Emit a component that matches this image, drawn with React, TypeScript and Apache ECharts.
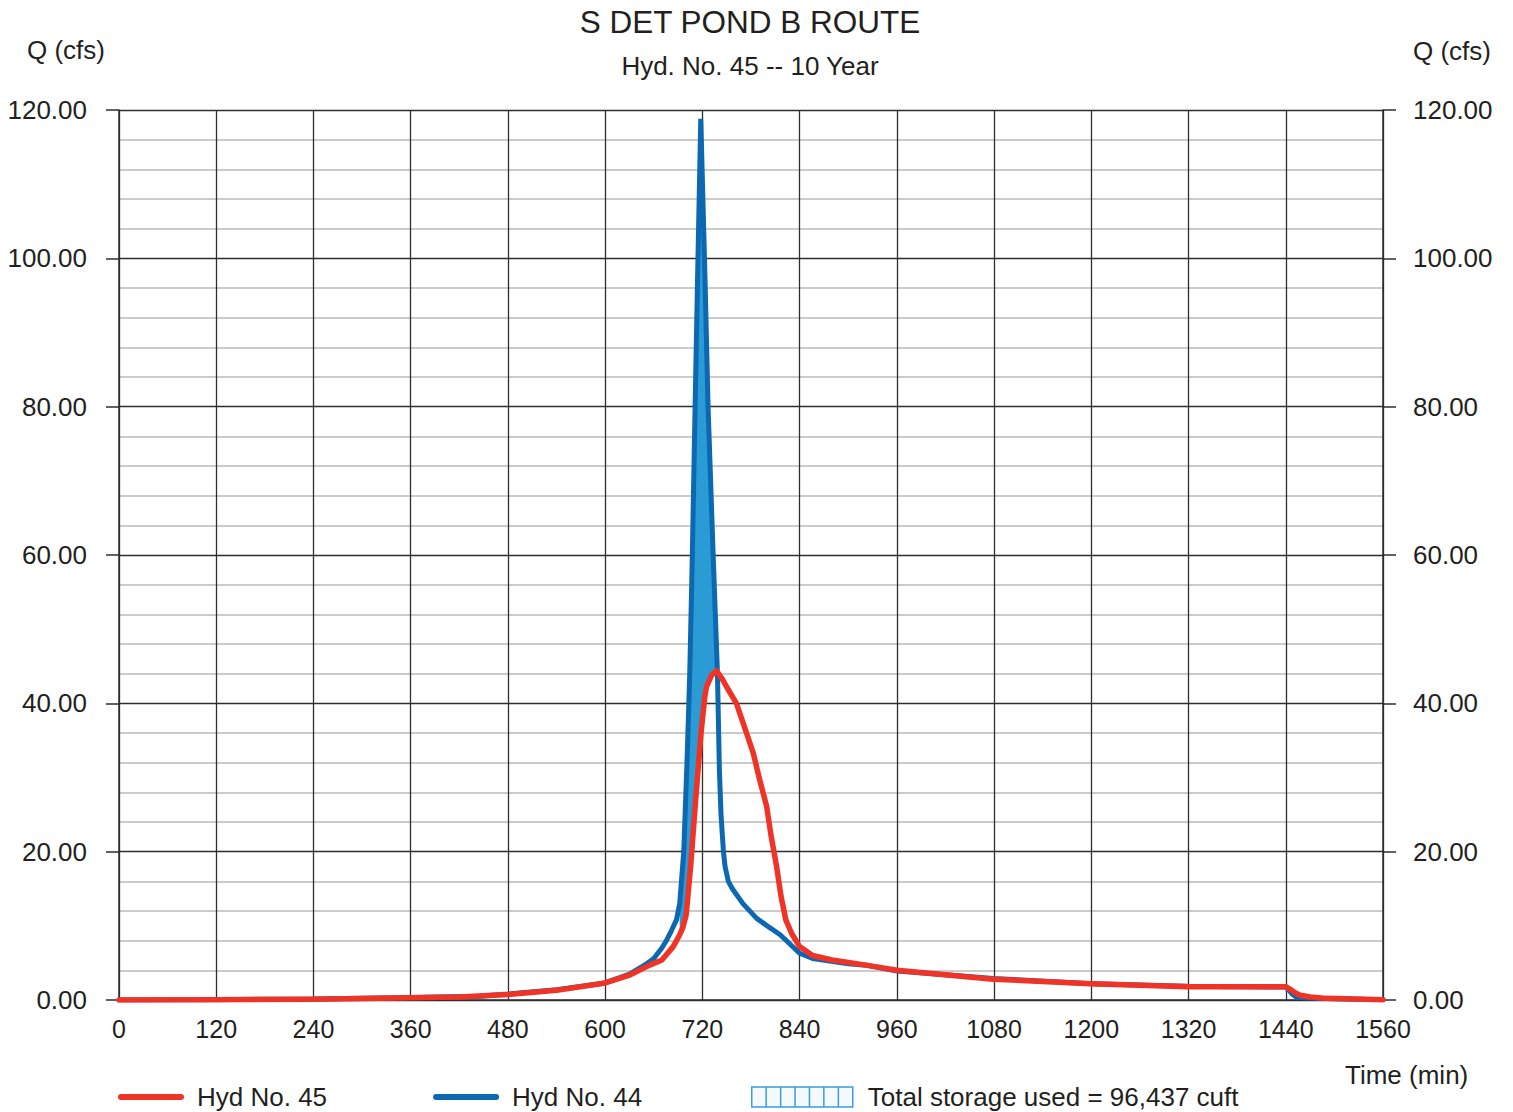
import React, { useEffect, useRef } from "react";
import * as echarts from "echarts";

// Hyd No. 44 (inflow) — [time (min), Q (cfs)]
const hyd44: [number, number][] = [
  [0, 0], [120, 0.05], [240, 0.15], [360, 0.35], [445, 0.5], [480, 0.8], [540, 1.4],
  [600, 2.3], [630, 3.5], [650, 4.8], [660, 5.6], [670, 7.0], [676, 8.1], [682, 9.4],
  [688, 10.8], [692, 13], [697, 20], [701, 32], [704.4, 44], [707.6, 60], [711, 80],
  [714, 97], [718, 118.8], [723.3, 97], [727, 80], [733.3, 60], [738.6, 44], [741, 31],
  [743, 25], [746, 20], [748, 18], [752, 16], [757, 15], [770, 13], [787, 11], [800, 10],
  [816, 8.8], [840, 6.3], [856, 5.6], [900, 4.9], [922, 4.7], [960, 3.9], [1079, 2.9],
  [1200, 2.2], [1319, 1.85], [1440, 1.75], [1444, 1.3], [1448, 0.8], [1452, 0.45],
  [1460, 0.3], [1490, 0.2], [1560, 0.05],
];

// Hyd No. 45 (routed outflow) — [time (min), Q (cfs)]
const hyd45: [number, number][] = [
  [0, 0], [120, 0.03], [240, 0.1], [360, 0.3], [420, 0.42], [480, 0.75], [540, 1.3],
  [600, 2.3], [631, 3.4], [655, 4.7], [670, 5.4], [684, 7.2], [692, 8.8], [696, 9.8],
  [700, 11.5], [705.5, 18], [711.7, 27], [718.3, 36], [723, 40.9], [725, 42.2],
  [731.4, 43.8], [737.5, 44.4], [745, 43.2], [750, 42.2], [762, 40], [772, 36.8],
  [782.8, 33.3], [790, 30], [799.3, 26.1], [805, 22], [811.6, 18], [817, 14], [823, 10.8],
  [830, 9], [840, 7.2], [856, 6], [880, 5.4], [922, 4.7], [960, 4.0], [1079, 2.8],
  [1200, 2.2], [1319, 1.8], [1440, 1.8], [1446, 1.4], [1452, 0.95], [1458, 0.65],
  [1470, 0.4], [1490, 0.22], [1560, 0.05],
];

const storageWindow: [number, number] = [690, 739];

const titleText = "S DET POND B ROUTE";
const subtitleText = "Hyd. No. 45 -- 10 Year";
const name44 = "Hyd No. 44";
const name45 = "Hyd No. 45";
const storageName = "Total storage used = 96,437 cuft";

const FONT = "'Liberation Sans', Arial, Helvetica, sans-serif";
const INK = "#231f20";
const GRID_DARK = "#2e2e2e";
const RED = "#ef3326";
const BLUE = "#0b68b1";
const FILL = "#2b9bd6";

const LINE_ICON = "path://M3 0H63A3 3 0 0 1 63 6H3A3 3 0 0 1 3 0Z";
const STORAGE_ICON =
  "path://M0 0H101V20H0ZM14.4 0V20M28.9 0V20M43.3 0V20M57.7 0V20M72.1 0V20M86.6 0V20";

export default function App() {
  const ref = useRef<HTMLDivElement>(null);

  useEffect(() => {
    if (!ref.current) return;
    const chart = echarts.init(ref.current, undefined, { renderer: "svg" });

    const top = hyd44.filter((p) => p[0] >= storageWindow[0] && p[0] <= storageWindow[1]);
    const bottom = hyd45
      .filter((p) => p[0] >= storageWindow[0] && p[0] <= storageWindow[1])
      .slice()
      .reverse();

    const yAxisCommon = {
      type: "value",
      min: 0,
      max: 120,
      interval: 20,
      axisLine: { show: true, lineStyle: { color: GRID_DARK, width: 1.5 } },
      axisTick: { show: true, inside: false, length: 13, lineStyle: { color: GRID_DARK, width: 1.5 } },
      axisLabel: {
        fontSize: 26,
        color: INK,
        fontFamily: FONT,
        formatter: (v: number) => v.toFixed(2),
      },
      nameTextStyle: { fontSize: 26, color: INK, fontFamily: FONT, verticalAlign: "middle" },
    };

    const option = {
      animation: false,
      textStyle: { fontFamily: FONT, color: INK },
      title: [
        {
          text: titleText,
          left: 750,
          top: 6,
          padding: 0,
          textAlign: "center",
          textStyle: { fontSize: 31.5, fontWeight: "normal", color: INK, fontFamily: FONT },
        },
        {
          text: subtitleText,
          left: 750,
          top: 53,
          padding: 0,
          textAlign: "center",
          textStyle: { fontSize: 26, fontWeight: "normal", color: INK, fontFamily: FONT },
        },
      ],
      grid: { left: 119, right: 130, top: 110, bottom: 112 },
      legend: [
        {
          left: 118,
          top: 1084,
          padding: 0,
          itemWidth: 66,
          itemHeight: 6,
          itemGap: 106,
          selectedMode: false,
          symbolKeepAspect: false,
          data: [
            { name: name45, icon: LINE_ICON, itemStyle: { color: RED } },
            { name: name44, icon: LINE_ICON, itemStyle: { color: BLUE } },
          ],
          textStyle: { fontSize: 26, color: INK, fontFamily: FONT, padding: [0, 0, 0, 8] },
        },
        {
          left: 751,
          top: 1084,
          padding: 0,
          itemWidth: 101,
          itemHeight: 20,
          selectedMode: false,
          symbolKeepAspect: false,
          data: [
            {
              name: storageName,
              icon: STORAGE_ICON,
              itemStyle: { color: "rgba(43,155,214,0.06)", borderColor: "#3d9be0", borderWidth: 1.5 },
            },
          ],
          textStyle: { fontSize: 26, color: INK, fontFamily: FONT, padding: [0, 0, 0, 10] },
        },
      ],
      xAxis: {
        type: "value",
        min: 0,
        max: 1560,
        interval: 120,
        name: "Time (min)",
        nameLocation: "end",
        nameGap: -38,
        nameTextStyle: {
          fontSize: 26,
          color: INK,
          fontFamily: FONT,
          align: "left",
          verticalAlign: "top",
          padding: [62, 0, 0, 0],
        },
        axisLine: { show: true, lineStyle: { color: GRID_DARK, width: 1.5 } },
        axisTick: { show: false },
        axisLabel: {
          fontSize: 25,
          color: INK,
          fontFamily: FONT,
          margin: 16,
          formatter: (v: number) => String(v),
        },
        splitLine: { show: true, lineStyle: { color: GRID_DARK, width: 1.3 } },
      },
      yAxis: [
        {
          ...yAxisCommon,
          position: "left",
          name: "Q (cfs)",
          nameLocation: "end",
          nameGap: 60,
          nameTextStyle: { ...yAxisCommon.nameTextStyle, align: "right", padding: [0, 14, 0, 0] },
          axisLabel: { ...yAxisCommon.axisLabel, margin: 32 },
          splitLine: { show: true, lineStyle: { color: GRID_DARK, width: 1.3 } },
          minorTick: { show: false, splitNumber: 5 },
          minorSplitLine: { show: true, lineStyle: { color: "#cbcbcb", width: 2 } },
        },
        {
          ...yAxisCommon,
          position: "right",
          name: "Q (cfs)",
          nameLocation: "end",
          nameGap: 59,
          nameTextStyle: { ...yAxisCommon.nameTextStyle, align: "left", padding: [0, 0, 0, 30] },
          axisLabel: { ...yAxisCommon.axisLabel, margin: 30 },
          splitLine: { show: false },
        },
      ],
      series: [
        {
          name: storageName,
          type: "custom",
          z: 1,
          clip: true,
          itemStyle: { color: FILL },
          data: [[0, 0]],
          renderItem: (_params: any, api: any) => {
            const pts = [...top, ...bottom].map((p) => api.coord(p));
            return { type: "polygon", shape: { points: pts }, style: { fill: FILL } };
          },
        },
        {
          name: name44,
          type: "line",
          z: 2,
          data: hyd44,
          symbol: "none",
          itemStyle: { color: BLUE },
          lineStyle: { color: BLUE, width: 5, join: "bevel", cap: "round" },
        },
        {
          name: name45,
          type: "line",
          z: 3,
          data: hyd45,
          symbol: "none",
          itemStyle: { color: RED },
          lineStyle: { color: RED, width: 5.5, join: "round", cap: "round" },
        },
      ],
    };

    chart.setOption(option as any);
    return () => chart.dispose();
  }, []);

  return (
    <div
      ref={ref}
      style={{ position: "absolute", left: 0, top: 0, width: 1513, height: 1112, background: "#fff" }}
    />
  );
}
